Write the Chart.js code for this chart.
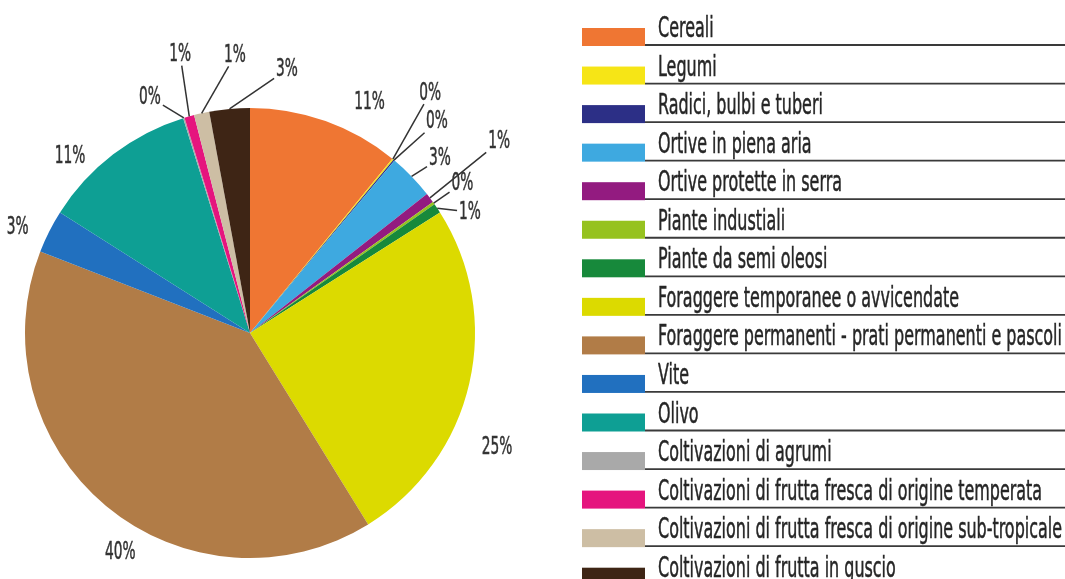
<!DOCTYPE html>
<html>
<head>
<meta charset="utf-8">
<script src="https://cdn.jsdelivr.net/npm/chart.js@4/dist/chart.umd.min.js"></script>
<style>
  html, body { margin: 0; padding: 0; background: #fff; }
  canvas { display: block; }
</style>
</head>
<body>
<canvas id="torta" width="1065" height="579"></canvas>
<script>
const categorie = [
  "Cereali",
  "Legumi",
  "Radici, bulbi e tuberi",
  "Ortive in piena aria",
  "Ortive protette in serra",
  "Piante industiali",
  "Piante da semi oleosi",
  "Foraggere temporanee o avvicendate",
  "Foraggere permanenti - prati permanenti e pascoli",
  "Vite",
  "Olivo",
  "Coltivazioni di agrumi",
  "Coltivazioni di frutta fresca di origine temperata",
  "Coltivazioni di frutta fresca di origine sub-tropicale",
  "Coltivazioni di frutta in guscio"
];

// quota % della superficie per coltura
const quote = [10.9, 0.1, 0.1, 3.3, 0.7, 0.2, 0.7, 25.2, 39.7, 3.1, 11.2, 0.1, 0.7, 1.1, 2.9];

const colori = [
  "#ef7633", "#f6e516", "#2c2f86", "#3ea9e0", "#931b80",
  "#96c21f", "#17893b", "#dcda00", "#b17c47", "#2170bf",
  "#0e9f94", "#a9a9a9", "#e5157e", "#cdbea4", "#3e2515"
];

// dove va ogni percentuale: [angolo in gradi da ore 12, distanza dal centro]
const posEtichette = [
  [27.4, 260], [36.9, 300], [41.5, 282], [47.4, 258], [52.5, 314],
  [54.8, 260], [61.2, 251], [114.8, 272], [210.6, 255], [294.4, 255],
  [314.4, 252], [337, 256], [345.9, 287], [356.9, 278], [8, 266]
];
const conLinea = [false, true, true, true, true, true, true, false, false, false, false, true, true, true, true];

const FONT = "'Liberation Sans Narrow', 'DejaVu Sans Condensed', 'DejaVu Sans', sans-serif";
const LEGENDA_X = 582;
const LEGENDA_Y0 = 45;
const LEGENDA_PASSO = 38.55;

// testo stretto: si schiaccia in orizzontale per stare nella colonna della legenda
let scalaX = null;
function scala(ctx) {
  if (scalaX === null) {
    ctx.save();
    ctx.font = "29px " + FONT;
    const piuLungo = Math.max(...categorie.map((c) => ctx.measureText(c).width));
    ctx.restore();
    scalaX = 404 / piuLungo;
  }
  return scalaX;
}

// scrive un testo schiacciato, un filo più spesso
function scrivi(ctx, testo, x, y, sx) {
  ctx.save();
  ctx.translate(x, y);
  ctx.scale(sx, 1);
  ctx.fillText(testo, 0, 0);
  ctx.lineWidth = 0.5;
  ctx.strokeStyle = ctx.fillStyle;
  ctx.strokeText(testo, 0, 0);
  ctx.restore();
}

const etichette = {
  id: "etichette",
  afterDatasetsDraw(chart) {
    const ctx = chart.ctx;
    const meta = chart.getDatasetMeta(0);
    const totale = quote.reduce((a, b) => a + b, 0);
    const sx = scala(ctx);
    ctx.save();
    ctx.font = "25px " + FONT;
    ctx.fillStyle = "#333";
    ctx.strokeStyle = "#333";
    ctx.lineWidth = 1.5;
    ctx.textAlign = "center";
    ctx.textBaseline = "middle";
    meta.data.forEach((arc, i) => {
      const testo = Math.round(quote[i] / totale * 100) + "%";
      const a = (posEtichette[i][0] - 90) * Math.PI / 180;
      const lx = arc.x + Math.cos(a) * posEtichette[i][1];
      const ly = arc.y + Math.sin(a) * posEtichette[i][1];
      if (conLinea[i]) {
        const mid = (arc.startAngle + arc.endAngle) / 2;
        const px = arc.x + Math.cos(mid) * arc.outerRadius;
        const py = arc.y + Math.sin(mid) * arc.outerRadius;
        const w = ctx.measureText(testo).width * sx / 2 + 2;
        const h = 11;
        const dx = px - lx;
        const dy = py - ly;
        const t = Math.min(w / Math.abs(dx || 0.001), h / Math.abs(dy || 0.001));
        ctx.beginPath();
        ctx.moveTo(px, py);
        ctx.lineTo(lx + dx * t, ly + dy * t);
        ctx.stroke();
      }
      scrivi(ctx, testo, lx, ly, sx);
    });
    ctx.restore();
  }
};

const legenda = {
  id: "legenda",
  afterDraw(chart) {
    const ctx = chart.ctx;
    const sx = scala(ctx);
    ctx.save();
    ctx.font = "29px " + FONT;
    ctx.textBaseline = "alphabetic";
    categorie.forEach((nome, i) => {
      const y = LEGENDA_Y0 + i * LEGENDA_PASSO;
      ctx.fillStyle = colori[i];
      ctx.fillRect(LEGENDA_X, y - 17, 63, 18);
      ctx.strokeStyle = "#3a3a3a";
      ctx.lineWidth = 1.8;
      ctx.beginPath();
      ctx.moveTo(LEGENDA_X + 63, y);
      ctx.lineTo(chart.width, y);
      ctx.stroke();
      ctx.fillStyle = "#262626";
      scrivi(ctx, nome, LEGENDA_X + 76, y - 8, sx);
    });
    ctx.restore();
  }
};

new Chart(document.querySelector("#torta"), {
  type: "pie",
  data: {
    labels: categorie,
    datasets: [
      {
        data: quote,
        backgroundColor: colori,
        borderWidth: 0,
      },
    ],
  },
  options: {
    responsive: false,
    animation: false,
    layout: { padding: { left: 25, right: 590, top: 108, bottom: 21 } },
    plugins: {
      legend: { display: false },
      tooltip: { enabled: false },
    },
  },
  plugins: [etichette, legenda],
});
</script>
</body>
</html>
